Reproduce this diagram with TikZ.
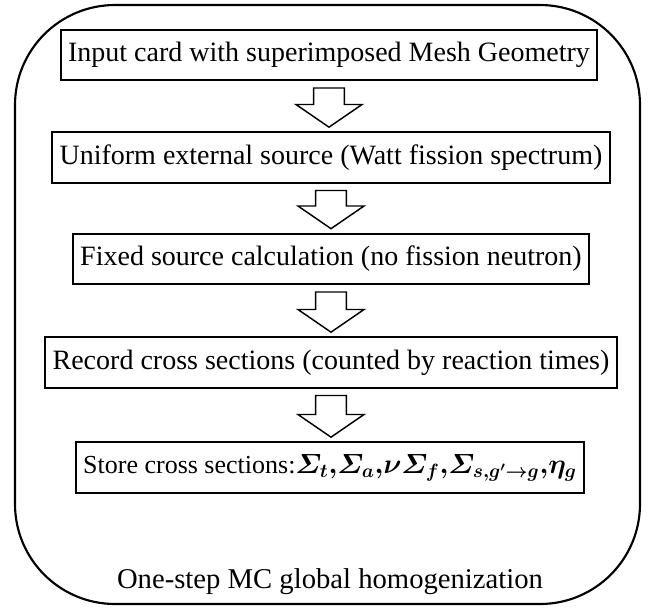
\documentclass[tikz,border=0pt]{standalone}
\usepackage{amsmath}
\usepackage{fontspec}
\setmainfont{Liberation Serif}
\usetikzlibrary{calc}

\newcommand{\xslist}{{\fontsize{20}{22}\selectfont\boldmath$\varSigma_{t}{,}\varSigma_{a}{,}\nu\varSigma_{f}{,}\varSigma_{s,g^{\prime}\rightarrow g}{,}\eta_{g}$}}

\begin{document}
\begin{tikzpicture}[
        x=0.75pt, y=-0.75pt,
        stepbox/.style={draw, line width=1.5pt, minimum height=38pt, inner xsep=5.5pt, inner ysep=0pt,
            font=\fontsize{21}{24}\selectfont},
        hollowarrow/.style={draw, line width=1.1pt, line join=miter, to path={
            let \p1=(\tikztostart.south), \p2=(\tikztotarget.north) in
            (\x1-11.6pt, \y1-5pt) -- (\x1-11.6pt, \y2+20pt) -- (\x1-24.75pt, \y2+20pt)
            -- (\x1, \y2+3pt) -- (\x1+24.75pt, \y2+20pt) -- (\x1+11.6pt, \y2+20pt)
            -- (\x1+11.6pt, \y1-5pt) -- cycle
        }},
    ]

    \useasboundingbox (0, 0) rectangle (651, 608);

    % outer frame
    \draw[line width=1.6pt, rounded corners=75pt] (15, 5) rectangle (640, 604);

    \node[stepbox] (input) at (329, 55) {Input card with superimposed Mesh Geometry};
    \node[stepbox] (source) at (331, 157.5) {Uniform external source (Watt fission spectrum)};
    \node[stepbox] (fixed) at (331, 259) {Fixed source calculation (no fission neutron)};
    \node[stepbox] (record) at (331, 362.5) {Record cross sections (counted by reaction times)};
    \node[stepbox, font=\fontsize{19.5}{22}\selectfont] (store) at (330, 467.5) {Store cross sections:\xslist};

    \node[font=\fontsize{21.5}{24}\selectfont] (caption) at (330, 582) {One-step MC global homogenization};

    \draw[hollowarrow] (input) to (source);
    \draw[hollowarrow] (source) to (fixed);
    \draw[hollowarrow] (fixed) to (record);
    \draw[hollowarrow] (record) to (store);
\end{tikzpicture}
\end{document}
